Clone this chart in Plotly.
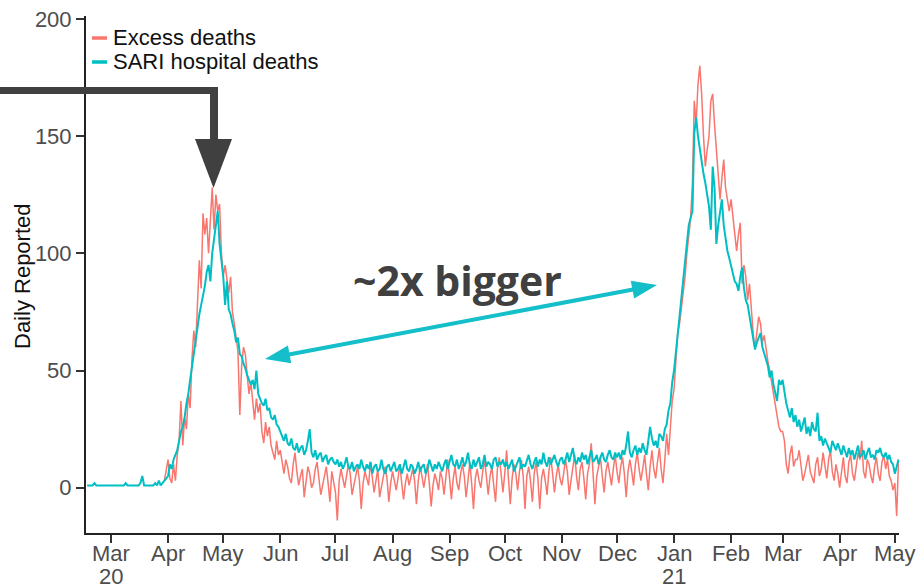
import math
import pandas as pd
import plotly.graph_objects as go

# ---------------- data (daily values) ----------------
sari_start = "2020-02-17"
sari_deaths = [
    1, 1, 1, 1, 2, 1, 1, 1, 1, 1, 1, 1, 1,                                  # Feb 17-29 2020
    1, 1, 1, 1, 1, 1, 1, 1, 2, 1, 1, 1, 1, 1, 1, 1, 2, 5, 1, 1, 1, 1, 1, 1, 2, 1, 3, 1, 2, 3, 4,  # Mar
    5, 10, 8, 12, 14, 16, 20, 24, 26, 30, 36, 40, 46, 52, 56, 62, 68, 74, 78, 82,
    86, 92, 95, 88, 100, 106, 112, 118, 104, 96,                            # Apr
    90, 78, 88, 76, 74, 70, 67, 62, 64, 57, 56, 53, 51, 48, 46, 44, 46, 42, 50, 40,
    38, 36, 35, 38, 33, 34, 30, 29, 31, 27, 26,                             # May
    24, 22, 20, 23, 19, 18, 21, 17, 16, 19, 15, 17, 18, 14, 16, 20, 25, 15, 13, 16,
    12, 14, 15, 11, 13, 14, 10, 12, 13, 11,                                 # Jun
    10, 12, 9, 11, 8, 10, 13, 9, 8, 11, 7, 9, 10, 8, 12, 9, 7, 10, 8, 11,
    6, 9, 10, 7, 8, 12, 8, 6, 9, 10, 7,                                     # Jul
    9, 11, 7, 8, 10, 6, 9, 12, 8, 7, 10, 9, 6, 8, 11, 7, 9, 10, 6, 8,
    12, 9, 7, 10, 8, 11, 9, 7, 10, 12, 8,                                   # Aug
    11, 14, 10, 9, 12, 8, 10, 13, 9, 11, 15, 10, 8, 12, 9, 11, 13, 8, 10, 14,
    9, 11, 10, 8, 12, 13, 9, 11, 10, 12,                                    # Sep
    9, 11, 8, 10, 12, 7, 9, 11, 13, 8, 10, 9, 12, 14, 10, 8, 11, 13, 9, 12,
    10, 15, 11, 9, 13, 10, 12, 14, 11, 9, 12,                               # Oct
    13, 10, 12, 15, 11, 14, 17, 12, 10, 13, 11, 15, 12, 14, 10, 13, 16, 11, 12, 14,
    10, 13, 15, 12, 11, 14, 16, 13, 12, 15,                                 # Nov
    13, 15, 12, 16, 14, 18, 24, 15, 13, 16, 18, 14, 17, 15, 19, 16, 14, 20, 26, 21,
    18, 20, 17, 23, 22, 20, 25, 27, 33, 36, 45,                             # Dec
    50, 58, 66, 72, 80, 87, 95, 104, 112, 115, 118, 151, 158, 150, 144, 138, 134, 130, 125, 120,
    110, 137, 128, 104, 112, 118, 123, 112, 106, 101, 98,                   # Jan 2021
    95, 92, 88, 87, 84, 90, 94, 85, 80, 78, 73, 68, 62, 59, 62, 64, 66, 60, 57, 55,
    52, 47, 50, 44, 40, 37, 46, 44,                                         # Feb
    46, 40, 36, 33, 30, 34, 28, 31, 26, 29, 24, 27, 30, 23, 26, 22, 28, 25, 24, 32,
    20, 22, 18, 21, 19, 17, 15, 20, 18, 16, 19,                             # Mar
    16, 14, 18, 15, 13, 17, 14, 16, 12, 15, 18, 13, 14, 16, 12, 15, 17, 13, 14, 12,
    16, 15, 17, 14, 13, 15, 12, 14, 11, 10,                                 # Apr
    6, 9, 12,                                                               # May 1-3
]

excess_start = "2020-03-30"
excess_deaths = [
    3, 8,                                                                   # Mar 30-31 2020
    12, 4, 2, 10, 3, 14, 20, 37, 18, 30, 25, 40, 34, 55, 67, 60, 80, 97, 85, 117,
    108, 115, 100, 112, 128, 110, 125, 118, 121, 100,                       # Apr
    90, 95, 88, 83, 90, 75, 70, 63, 58, 31, 52, 60, 57, 48, 40, 45, 35, 29, 38, 32,
    36, 24, 19, 28, 22, 26, 18, 15, 12, 20, 14,                             # May
    16, 11, 6, 12, 9, 4, 2, 10, 15, 7, 1, 5, 8, -4, 3, 9, 6, 0, 2, 8,
    11, 4, -3, 1, 6, 9, 2, -6, 7, 3,                                        # Jun
    -2, -14, 3, 8, 4, 0, 5, 10, 6, -3, 1, 6, 9, 3, -9, 2, 7, 4, 1, 11,
    5, -2, 3, 8, -4, 0, 5, 9, 4, -6, 2,                                     # Jul
    7, 3, -1, 4, 10, 2, -5, 2, 6, 1, 4, 8, 3, -7, 3, 9, 5, 0, 5, 10,
    2, -8, 1, 6, 3, -1, 7, 4, -3, 5, 12,                                    # Aug
    4, -5, 4, 9, 2, -1, 6, 10, 5, -4, 3, 11, 2, -9, 4, 8, 3, 0, 7, 12,
    5, -3, 5, 9, 1, -6, 8, 13, 6, -2,                                       # Sep
    6, 16, 4, -7, 4, 10, 6, -1, 7, 12, 5, -9, 5, 9, 3, -6, 6, 11, 4, -9,
    4, 8, 3, -3, 7, 13, 6, -2, 5, 10, 4,                                    # Oct
    1, 6, 12, 7, -3, 3, 9, 14, 5, -1, 8, 11, 4, -5, 6, 10, 19, 6, -7, 5,
    9, 13, 5, -2, 7, 11, 6, 1, 8, 14,                                       # Nov
    7, 2, 9, 13, 6, -4, 7, 12, 7, 1, 10, 15, 8, 3, 8, 14, 6, -1, 9, 16,
    8, 4, 11, 17, 8, 2, 12, 23, 14, 26, 37,                                 # Dec
    42, 52, 66, 70, 76, 82, 90, 100, 108, 115, 130, 165, 155, 172, 180, 168, 150, 137, 144, 150,
    165, 168, 155, 144, 130, 123, 132, 140, 128, 123, 118,                  # Jan 2021
    123, 115, 106, 101, 108, 113, 87, 95, 90, 80, 87, 76, 66, 59, 65, 73, 70, 62, 65, 59,
    54, 50, 45, 40, 35, 30, 26, 24,                                         # Feb
    24, 20, 10, 6, 14, 18, 9, 12, 12, 16, 8, 3, 6, 11, 14, 7, 4, 2, 10, 13,
    5, 8, 15, 9, 4, 12, 16, 7, 3, 10, 6,                                    # Mar
    0, 8, 13, 5, 2, 11, 14, 6, 3, 9, 15, 12, 20, 7, 4, 12, 10, 5, 2, 9,
    13, 6, 3, 11, 14, 8, 12, 5, 3, -1,                                      # Apr
    2, -12, 12,                                                             # May 1-3
]

series_names = ["Excess deaths", "SARI hospital deaths"]
series_colors = ["#F8766D", "#00BFC4"]
month_ticks = pd.date_range("2020-03-01", "2021-05-01", freq="MS")
month_labels = [d.strftime("%b") for d in month_ticks]
year_tick_dates = ["2020-03-01", "2021-01-01"]
year_tick_labels = ["20", "21"]
y_ticks = [0, 50, 100, 150, 200]
x_range = ["2020-02-16 09:50", "2021-05-03 06:15"]
y_range = [-19.3, 201.2]
annotation_text = "~2x bigger"
y_title = "Daily Reported"

sari_dates = pd.date_range(sari_start, periods=len(sari_deaths), freq="D")
excess_dates = pd.date_range(excess_start, periods=len(excess_deaths), freq="D")

# ---------------- layout geometry ----------------
W, H = 917, 588
ML, MR, MT, MB = 86, 18, 16, 55
PW, PH = W - ML - MR, H - MT - MB


def px(x):
    return (x - ML) / PW


def py(y):
    return (H - MB - y) / PH


FONT = "Liberation Sans, Arial, sans-serif"
DARK = "#404040"
TEAL_ARROW = "#14BFC9"

fig = go.Figure()
fig.add_trace(go.Scatter(x=excess_dates, y=excess_deaths, mode="lines",
                         name=series_names[0],
                         line=dict(color=series_colors[0], width=1.5)))
fig.add_trace(go.Scatter(x=sari_dates, y=sari_deaths, mode="lines",
                         name=series_names[1],
                         line=dict(color=series_colors[1], width=2)))

shapes = []
# thick dark bent arrow pointing at first peak
bar = [(-5, 87), (218, 87), (218, 139), (232, 139), (213.5, 188),
       (195, 139), (210, 139), (210, 94), (-5, 94)]
path = "M " + " L ".join(f"{px(a):.5f},{py(b):.5f}" for a, b in bar) + " Z"
shapes.append(dict(type="path", xref="paper", yref="paper", path=path,
                   fillcolor=DARK, line=dict(width=0), layer="above"))

# teal double-headed arrow
t1, t2 = (265, 359), (657, 285)
dx, dy = t2[0] - t1[0], t2[1] - t1[1]
L = math.hypot(dx, dy)
ux, uy = dx / L, dy / L
nx, ny = -uy, ux
hl, hw = 25, 9
b1 = (t1[0] + hl * ux, t1[1] + hl * uy)
b2 = (t2[0] - hl * ux, t2[1] - hl * uy)
shapes.append(dict(type="line", xref="paper", yref="paper",
                   x0=px(b1[0] - 2 * ux), y0=py(b1[1] - 2 * uy),
                   x1=px(b2[0] + 2 * ux), y1=py(b2[1] + 2 * uy),
                   line=dict(color=TEAL_ARROW, width=4), layer="above"))
for tip, base in ((t1, b1), (t2, b2)):
    pts = [tip, (base[0] + hw * nx, base[1] + hw * ny), (base[0] - hw * nx, base[1] - hw * ny)]
    p = "M " + " L ".join(f"{px(a):.5f},{py(b):.5f}" for a, b in pts) + " Z"
    shapes.append(dict(type="path", xref="paper", yref="paper", path=p,
                       fillcolor=TEAL_ARROW, line=dict(width=0), layer="above"))

annotations = []
# manual legend
for i, (name, col) in enumerate(zip(series_names, series_colors)):
    yy = 38 + 24 * i
    shapes.append(dict(type="line", xref="paper", yref="paper",
                       x0=px(92), x1=px(107), y0=py(yy), y1=py(yy),
                       line=dict(color=col, width=3.5)))
    annotations.append(dict(x=px(111), y=py(yy), xref="paper", yref="paper",
                            xanchor="left", yanchor="middle", showarrow=False,
                            text=name, font=dict(family=FONT, size=22, color="#111111")))

# month tick labels and year sub-labels under the x ticks
for d, lab in zip(month_ticks, month_labels):
    annotations.append(dict(x=d, xref="x", y=py(553), yref="paper",
                            xanchor="center", yanchor="middle", showarrow=False,
                            text=lab, font=dict(family=FONT, size=22, color="#4D4D4D")))
for d, lab in zip(year_tick_dates, year_tick_labels):
    annotations.append(dict(x=d, xref="x", y=py(576), yref="paper",
                            xanchor="center", yanchor="middle", showarrow=False,
                            text=lab, font=dict(family=FONT, size=22, color="#4D4D4D")))

# y title
annotations.append(dict(x=px(22), y=py(276), xref="paper", yref="paper",
                        xanchor="center", yanchor="middle", showarrow=False,
                        textangle=-90, text=y_title,
                        font=dict(family=FONT, size=22, color="#111111")))

# big text
annotations.append(dict(x=px(457), y=py(280), xref="paper", yref="paper",
                        xanchor="center", yanchor="middle", showarrow=False,
                        text="<b>" + annotation_text + "</b>",
                        font=dict(family="Open Sans, sans-serif", size=41, color=DARK)))

fig.update_layout(
    width=W, height=H,
    margin=dict(l=ML, r=MR, t=MT, b=MB, autoexpand=False),
    paper_bgcolor="white", plot_bgcolor="white",
    showlegend=False,
    shapes=shapes, annotations=annotations,
    font=dict(family=FONT, size=22, color="#4D4D4D"),
)
fig.update_xaxes(
    range=x_range, tickmode="array", tickvals=month_ticks, showticklabels=False,
    showgrid=False, zeroline=False, showline=True, linecolor="#222222", linewidth=2,
    ticks="outside", ticklen=8, tickwidth=2, tickcolor="#333333",
)
fig.update_yaxes(
    range=y_range, tickmode="array", tickvals=y_ticks,
    showgrid=False, zeroline=False, showline=True, linecolor="#222222", linewidth=2,
    ticks="outside", ticklen=8, tickwidth=2, tickcolor="#333333",
    tickfont=dict(family=FONT, size=22, color="#4D4D4D"),
)

fig.write_html("out.html")
